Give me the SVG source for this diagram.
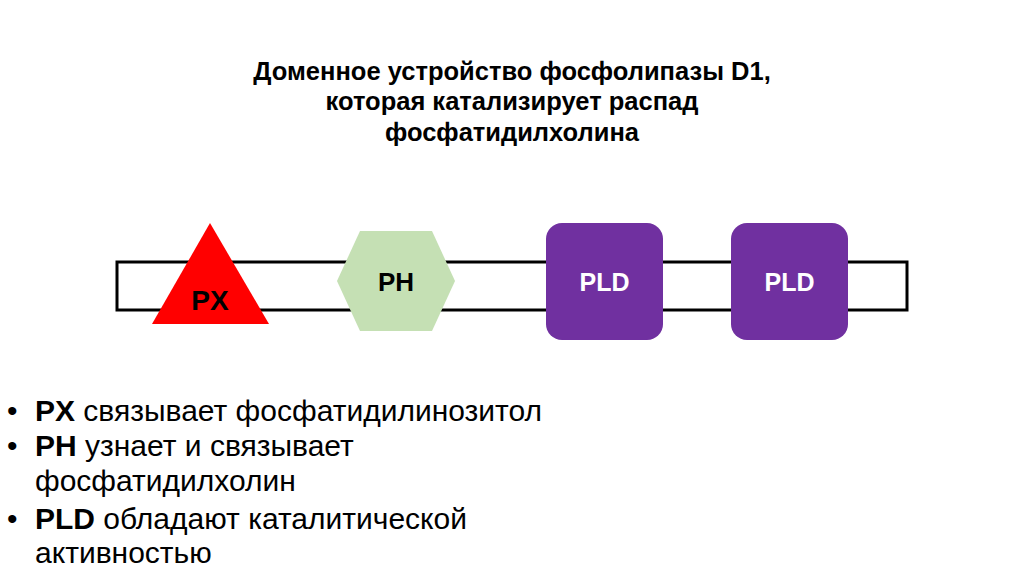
<svg xmlns="http://www.w3.org/2000/svg" width="1024" height="574" viewBox="0 0 1024 574">
<style>
text{font-family:"Liberation Sans",Arial,sans-serif}
.t{font-size:25.5px;font-weight:bold;fill:#000;text-anchor:middle}
.lbl{font-weight:bold;text-anchor:middle}
.b{font-size:30px;fill:#000}
.bold{font-weight:bold}
</style>
<rect width="1024" height="574" fill="#fff"/>
<g id="title">
<text class="t" x="512" y="80">Доменное устройство фосфолипазы D1,</text>
<text class="t" x="512" y="110">которая катализирует распад</text>
<text class="t" x="512" y="141">фосфатидилхолина</text>
</g>
<g id="bar"><rect x="117" y="262" width="790" height="48" fill="#fff" stroke="#000" stroke-width="3"/></g>
<g id="px"><polygon points="210,223 152,324 269,324" fill="#ff0000"/><text class="lbl" x="210" y="310" font-size="28" fill="#000">PX</text></g>
<g id="ph"><polygon points="337,281 360,231 432,231 455,281 432,331 360,331" fill="#c5e0b4"/><text class="lbl" x="396" y="291" font-size="26" fill="#000">PH</text></g>
<g id="pld1"><rect x="546" y="223" width="117" height="117" rx="16" fill="#7030a0"/><text class="lbl" x="604.5" y="291" font-size="25" fill="#fff">PLD</text></g>
<g id="pld2"><rect x="731" y="223" width="117" height="117" rx="16" fill="#7030a0"/><text class="lbl" x="789.5" y="291" font-size="25" fill="#fff">PLD</text></g>
<g id="bullets">
<text class="b" x="7" y="421">•</text>
<text class="b" x="35" y="421"><tspan class="bold">PX</tspan> связывает фосфатидилинозитол</text>
<text class="b" x="7" y="456">•</text>
<text class="b" x="35" y="456"><tspan class="bold">PH</tspan> узнает и связывает</text>
<text class="b" x="35" y="491">фосфатидилхолин</text>
<text class="b" x="7" y="529">•</text>
<text class="b" x="35" y="529"><tspan class="bold">PLD</tspan> обладают каталитической</text>
<text class="b" x="35" y="563">активностью</text>
</g>
</svg>
